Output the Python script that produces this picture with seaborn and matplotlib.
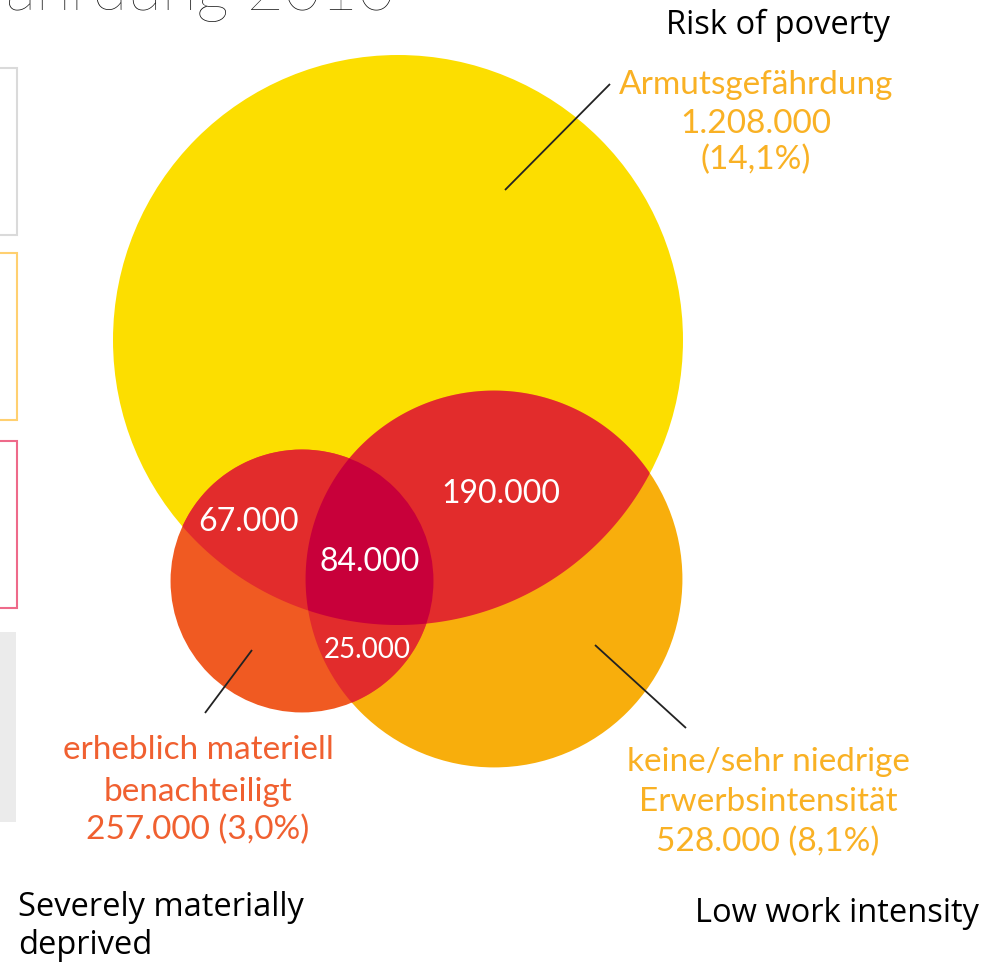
import numpy as np
import matplotlib
matplotlib.use("Agg")
import matplotlib.pyplot as plt
from matplotlib.patches import Circle, Polygon, Rectangle
import seaborn as sns

# ---- data ----
set_names = ["Armutsgefährdung", "keine/sehr niedrige\nErwerbsintensität", "erheblich materiell\nbenachteiligt"]
set_totals = [1208000, 528000, 257000]
set_shares = ["14,1%", "8,1%", "3,0%"]
english_labels = ["Risk of poverty", "Low work intensity", "Severely materially\ndeprived"]
overlap_names = ["Armut+Material", "Armut+Erwerb", "alle drei", "Erwerb+Material"]
overlap_values = [67000, 190000, 84000, 25000]
title_text = "Armutsgefährdung 2010"

# ---- style ----
sns.set_theme(style="white")
light = ["Lato", "DejaVu Sans"]
plt.rcParams["font.family"] = light

def de(v):
    return f"{v:,}".replace(",", ".")

W, H = 1004, 965
fig = plt.figure(figsize=(W / 100, H / 100), dpi=100)
ax = fig.add_axes([0, 0, 1, 1])
ax.set_xlim(0, W)
ax.set_ylim(H, 0)
ax.axis("off")

col_yellow = "#FCDE00"
col_orange = "#F8AE0C"
col_small = "#F05A22"
col_pair = "#E22C2C"
col_triple = "#C8003A"

k = 0.2593
radii = [k * np.sqrt(v) for v in set_totals]
centers = [(398, 340), (494, 579), (302, 581)]

def lens(c1, r1, c2, r2, n=720):
    t = np.linspace(0, 2 * np.pi, n, endpoint=False)
    c1 = np.array(c1, float); c2 = np.array(c2, float)
    p1 = c1 + r1 * np.c_[np.cos(t), np.sin(t)]
    p2 = c2 + r2 * np.c_[np.cos(t), np.sin(t)]
    p1 = p1[np.hypot(*(p1 - c2).T) <= r2]
    p2 = p2[np.hypot(*(p2 - c1).T) <= r1]
    pts = np.vstack([p1, p2])
    m = pts.mean(axis=0)
    ang = np.arctan2(pts[:, 1] - m[1], pts[:, 0] - m[0])
    return pts[np.argsort(ang)]

# circles
for c, r, col in zip(centers, radii, [col_yellow, col_orange, col_small]):
    ax.add_patch(Circle(c, r, facecolor=col, edgecolor="none", antialiased=True))

# pairwise overlaps
pairs = [(0, 1), (0, 2), (1, 2)]
for i, j in pairs:
    ax.add_patch(Polygon(lens(centers[i], radii[i], centers[j], radii[j]),
                         closed=True, facecolor=col_pair, edgecolor="none"))

# triple overlap
clip = Circle(centers[2], radii[2], transform=ax.transData)
tri = Polygon(lens(centers[0], radii[0], centers[1], radii[1]),
              closed=True, facecolor=col_triple, edgecolor="none")
ax.add_patch(tri)
tri.set_clip_path(clip)

# overlap value labels
ov_pos = [(249, 522), (501, 494), (370, 562), (367, 650)]
ov_size = [23, 23, 23, 20]
for (x, y), v, s in zip(ov_pos, overlap_values, ov_size):
    ax.text(x, y, de(v), color="white", fontsize=s, ha="center", va="center",
            fontweight="normal", family=light)

# set labels
lab_col = ["#F9B124", "#F9B124", "#F06030"]
fs = 24
ax.text(756, 85, set_names[0], color=lab_col[0], fontsize=fs, ha="center", va="center")
ax.text(756, 124, de(set_totals[0]), color=lab_col[0], fontsize=fs, ha="center", va="center")
ax.text(756, 160, f"({set_shares[0]})", color=lab_col[0], fontsize=fs, ha="center", va="center")

l1 = set_names[1].split("\n")
ax.text(768, 762, l1[0], color=lab_col[1], fontsize=fs, ha="center", va="center")
ax.text(768, 802, l1[1], color=lab_col[1], fontsize=fs, ha="center", va="center")
ax.text(768, 842, f"{de(set_totals[1])} ({set_shares[1]})", color=lab_col[1], fontsize=fs, ha="center", va="center")

l2 = set_names[2].split("\n")
ax.text(198, 750, l2[0], color=lab_col[2], fontsize=fs, ha="center", va="center")
ax.text(198, 792, l2[1], color=lab_col[2], fontsize=fs, ha="center", va="center")
ax.text(198, 830, f"{de(set_totals[2])} ({set_shares[2]})", color=lab_col[2], fontsize=fs, ha="center", va="center")

# leader lines
for (x0, y0, x1, y1) in [(505, 190, 610, 84), (205, 713, 252, 650), (595, 645, 686, 728)]:
    ax.plot([x0, x1], [y0, y1], color="#222222", lw=1.3, solid_capstyle="butt")

# english labels
eng = ["Open Sans", "DejaVu Sans"]
ax.text(778, 25, english_labels[0], color="black", fontsize=23.5, ha="center", va="center", family=eng)
ax.text(837, 913, english_labels[1], color="black", fontsize=23.5, ha="center", va="center", family=eng)
ax.text(18, 926, english_labels[2], color="black", fontsize=23.5, ha="left", va="center",
        family=eng, linespacing=1.2)

# cut-off title
ax.text(395, 10, title_text, color="#111111", fontsize=46, ha="right", va="baseline",
        fontweight="light", clip_on=True)

# left side boxes (partially visible)
ax.add_patch(Rectangle((-40, 68), 57, 167, facecolor="none", edgecolor="#DADADA", lw=1.5))
ax.add_patch(Rectangle((-40, 253), 57, 167, facecolor="none", edgecolor="#FFD070", lw=1.5))
ax.add_patch(Rectangle((-40, 441), 57, 167, facecolor="none", edgecolor="#EE6A8A", lw=1.5))
ax.add_patch(Rectangle((-40, 632), 56, 190, facecolor="#EBEBEB", edgecolor="none"))

fig.savefig("out.png", dpi=100)
